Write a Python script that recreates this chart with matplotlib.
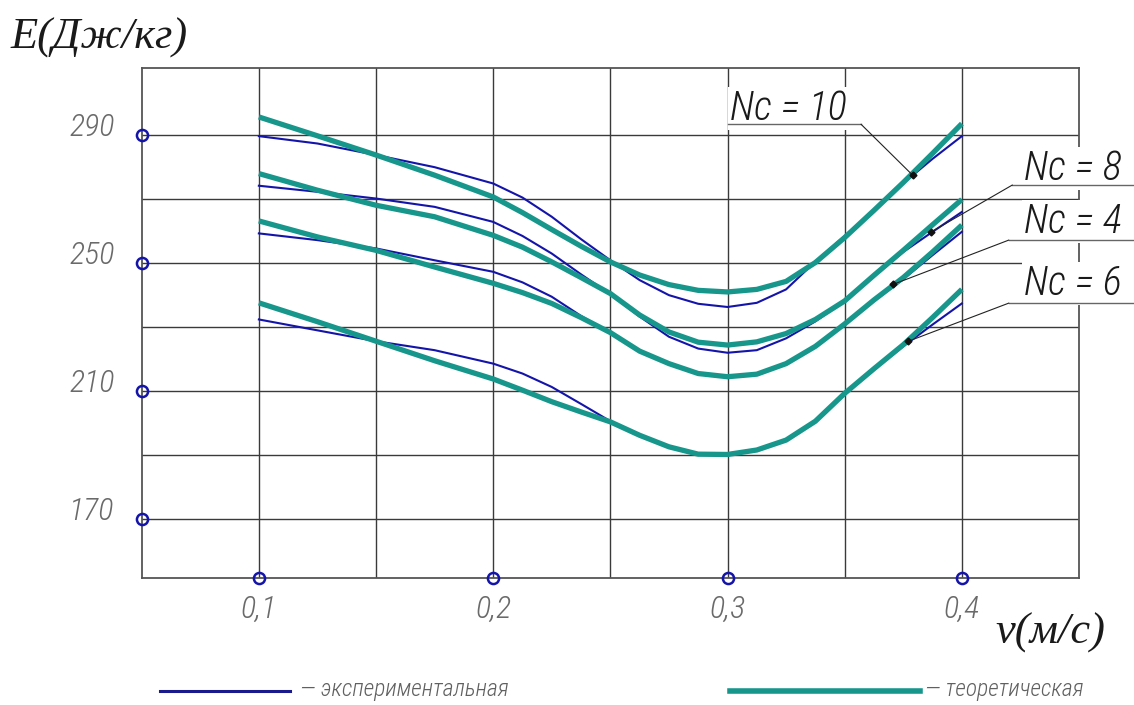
import matplotlib
matplotlib.use('Agg')
import matplotlib.pyplot as plt
from matplotlib.lines import Line2D
from matplotlib import font_manager

# speed v, m/s
v = [0.1, 0.125, 0.15, 0.175, 0.2, 0.2125, 0.225, 0.2375, 0.25, 0.2625, 0.275,
     0.2875, 0.3, 0.3125, 0.325, 0.3375, 0.35, 0.3625, 0.375, 0.3875, 0.4]

# theoretical curves (teal)
theor_10 = [295.7, 289.8, 283.8, 277.5, 270.7, 265.8, 260.5, 255.3, 250.4, 246.3, 243.3,
            241.5, 241.0, 241.8, 244.3, 250.2, 258.0, 266.5, 275.2, 284.3, 293.6]
theor_8 = [278.0, 272.8, 268.1, 264.5, 258.7, 255.0, 250.4, 245.5, 240.5, 233.8, 228.5,
           225.3, 224.4, 225.4, 228.0, 232.4, 238.2, 246.2, 254.0, 262.0, 269.9]
theor_4 = [263.2, 258.2, 254.0, 248.8, 243.7, 240.8, 237.4, 233.0, 228.3, 222.5, 218.6,
           215.5, 214.5, 215.3, 218.6, 224.0, 231.0, 238.5, 245.5, 253.5, 261.9]
theor_6 = [237.6, 231.7, 225.6, 219.5, 213.8, 210.3, 206.7, 203.5, 200.4, 196.2, 192.6,
           190.3, 190.2, 191.6, 194.7, 200.6, 209.3, 217.0, 224.5, 233.0, 241.8]

# experimental curves (blue)
exper_10 = [289.7, 287.4, 283.8, 280.0, 274.9, 270.5, 264.5, 257.5, 250.9, 244.7, 240.0,
            237.3, 236.3, 237.6, 241.8, 250.5, 258.5, 266.5, 275.0, 282.6, 289.7]
exper_8 = [274.2, 272.3, 270.2, 267.6, 262.9, 258.5, 253.0, 246.5, 240.3, 233.3, 227.0,
           223.3, 222.0, 222.8, 226.5, 231.8, 238.2, 246.0, 253.5, 259.8, 266.0]
exper_4 = [259.3, 257.2, 254.6, 250.9, 247.3, 244.0, 239.5, 233.5, 228.2, 222.4, 218.4,
           215.3, 214.3, 215.1, 218.4, 223.8, 230.8, 238.2, 245.0, 252.5, 259.8]
exper_6 = [232.4, 229.0, 225.6, 222.8, 218.6, 215.5, 211.3, 206.0, 200.6, 196.1, 192.5,
           190.2, 190.1, 191.5, 194.6, 200.5, 209.2, 216.8, 224.0, 230.8, 237.4]

x_ticks = [0.1, 0.2, 0.3, 0.4]
x_labels = ['0,1', '0,2', '0,3', '0,4']
y_ticks = [170, 210, 250, 290]
y_labels = ['170', '210', '250', '290']

# curve labels: text, text anchor, shelf x-range, shelf y, leader end point
nc_labels = ['Nc = 10', 'Nc = 8', 'Nc = 4', 'Nc = 6']
nc_text_pos = [(0.301, 294.8), (0.4265, 275.9), (0.4265, 259.3), (0.4265, 240.0)]
nc_shelf_x = [(0.300, 0.357), (0.4215, 0.473), (0.420, 0.473), (0.420, 0.473)]
nc_shelf_y = [293.4, 274.4, 257.2, 237.5]
nc_points = [(0.379, 277.5), (0.387, 259.8), (0.3708, 243.4), (0.3772, 225.6)]

TEAL = '#17968c'
BLUE = '#1414aa'
GRID = '#3a3a3a'

# narrow drafting-like font, if one is around
have = {f.name for f in font_manager.fontManager.ttflist}
narrow_font = 'DejaVu Sans'
k = 0.78
for name in ['Roboto Condensed', 'PT Sans Narrow', 'Liberation Sans Narrow', 'Open Sans Condensed']:
    if name in have:
        narrow_font, k = name, 1.0
        break
narrow = [narrow_font, 'DejaVu Sans']
serif = ['Liberation Serif', 'DejaVu Serif']

fig = plt.figure(figsize=(11.34, 7.05), dpi=100)
ax = fig.add_axes([0.12496, 0.17972, 0.82654, 0.72383])
ax.set_xlim(0.05, 0.45)
ax.set_ylim(151.5, 311)

# grid
ax.set_xticks([0.1, 0.15, 0.2, 0.25, 0.3, 0.35, 0.4])
ax.set_yticks([170, 190, 210, 230, 250, 270, 290])
ax.tick_params(length=0, labelbottom=False, labelleft=False)
ax.grid(True, color=GRID, lw=1.0)
for s in ax.spines.values():
    s.set_color('#555555')
    s.set_linewidth(1.3)

for e in [exper_10, exper_8, exper_4, exper_6]:
    ax.plot(v, e, color=BLUE, lw=1.5, zorder=3)
for t in [theor_10, theor_8, theor_4, theor_6]:
    ax.plot(v, t, color=TEAL, lw=3.8, zorder=4, solid_capstyle='butt')

# tick circles and labels
ax.plot([0.05] * len(y_ticks), y_ticks, 'o', mfc='none', mec=BLUE, ms=8, mew=1.8,
        clip_on=False, zorder=6)
ax.plot(x_ticks, [151.5] * len(x_ticks), 'o', mfc='none', mec=BLUE, ms=8, mew=1.8,
        clip_on=False, zorder=6)
for yt, lab in zip(y_ticks, y_labels):
    ax.text(0.0385, yt + 2.5, lab, ha='right', va='center', fontsize=23 * k, style='italic',
            weight='light', color='#6a6a6a', family=narrow)
for xt, lab in zip(x_ticks, x_labels):
    ax.text(xt, 142.0, lab, ha='center', va='center', fontsize=23 * k, style='italic',
            weight='light', color='#6a6a6a', family=narrow)

# Nc labels with leader lines
for lab, (tx, ty), (sx0, sx1), sy, (px, py) in zip(nc_labels, nc_text_pos, nc_shelf_x,
                                                    nc_shelf_y, nc_points):
    ax.text(tx, ty, lab, ha='left', va='baseline', fontsize=29 * k, style='italic',
            weight='light', color='#1a1a1a', family=narrow, zorder=7,
            bbox=dict(boxstyle='square,pad=0.05', fc='white', ec='none'))
    ax.plot([sx0, sx1], [sy, sy], color='#666666', lw=1.0, clip_on=False, zorder=8)
    ax.plot([sx0 if sx0 > px else sx1, px], [sy, py], color='#222222', lw=0.8,
            clip_on=False, zorder=8)
    ax.plot([px], [py], marker='D', color='#111111', ms=3.5, zorder=9)

# axis titles
fig.text(0.009, 0.9305, 'E(Дж/кг)', fontsize=32, style='italic', family=serif,
         color='#1a1a1a', va='baseline', ha='left')
fig.text(0.8774, 0.0879, 'v(м/с)', fontsize=32, style='italic', family=serif,
         color='#1a1a1a', va='baseline', ha='left')

# legend
fig.add_artist(Line2D([0.1411, 0.2557], [0.0199, 0.0199], color='#1a1a8c', lw=2.2))
fig.text(0.2646, 0.0225, '— экспериментальная', fontsize=17 * k, style='italic',
         weight='light', family=narrow, color='#606060', va='center', ha='left')
fig.add_artist(Line2D([0.6437, 0.8113], [0.0199, 0.0199], color=TEAL, lw=4))
fig.text(0.8157, 0.0225, '— теоретическая', fontsize=17 * k, style='italic',
         weight='light', family=narrow, color='#606060', va='center', ha='left')

fig.savefig('out.png', dpi=100)
